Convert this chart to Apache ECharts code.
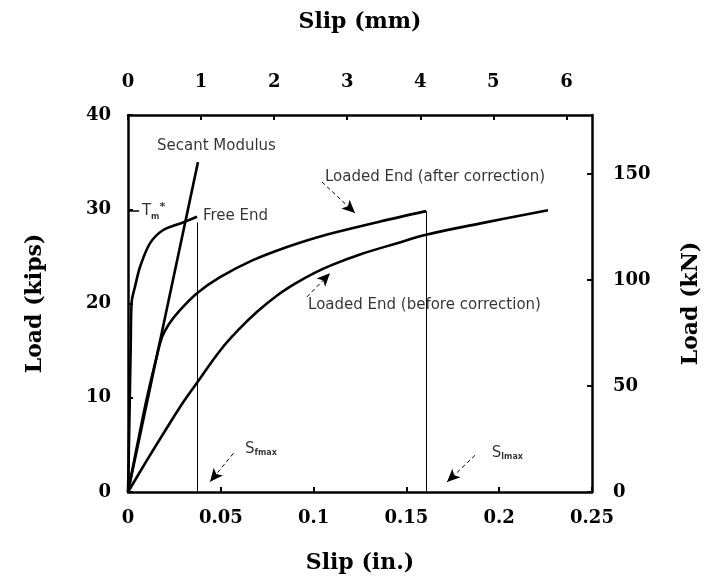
<!DOCTYPE html>
<html>
<head>
<meta charset="utf-8">
<script src="https://cdn.jsdelivr.net/npm/echarts@6/dist/echarts.min.js"></script>
<style>
html,body{margin:0;padding:0;background:#fff;}
#chart{width:705px;height:579px;}
</style>
</head>
<body>
<div id="chart"></div>
<script>
// ---- data (slip in inches, load in kips) ----
const freeEnd = [[0,0],[0.0008,8],[0.0015,16],[0.002,20.2],[0.0038,21.8],[0.0065,23.9],[0.0119,26.4],[0.019,27.8],[0.0296,28.6],[0.0372,29.2]];
const secantModulus = [[0,0],[0.0377,35]];
const loadedAfter = [[0,0],[0.005,5],[0.01,9.8],[0.015,14],[0.0183,16.4],[0.022,17.8],[0.028,19.3],[0.0372,21.1],[0.0496,22.8],[0.0673,24.6],[0.0857,26.0],[0.105,27.2],[0.1358,28.7],[0.1606,29.8]];
const loadedBefore = [[0,0],[0.01,3.3],[0.02,6.5],[0.03,9.6],[0.0372,11.6],[0.05,15.1],[0.06,17.3],[0.07,19.2],[0.08,20.8],[0.09,22.1],[0.1,23.2],[0.11,24.1],[0.125,25.2],[0.145,26.4],[0.1606,27.3],[0.19,28.5],[0.2263,29.9]];
const sFmax = 0.0372;   // free-end slip at max load (in.)
const sLmax = 0.1606;   // loaded-end slip at max load (in.)
const tmLoad = 29.8;    // T_m* (kips)

// ---- tick labels ----
const inTicks = [0,0.05,0.1,0.15,0.2,0.25];
const mmTicks = [0,1,2,3,4,5,6];
const kipTicks = [0,10,20,30,40];
const kNTicks = [0,50,100,150];

const IN_TO_MM = 25.4, KIP_TO_KN = 4.44822;
const xMax = 0.25, yMax = 40;

const serif = '"DejaVu Serif", serif';
const sans = '"DejaVu Sans", sans-serif';
const axisLbl = {color:'#000', fontFamily:serif, fontWeight:'bold', fontSize:18};
const nameSty = {color:'#000', fontFamily:serif, fontWeight:'bold', fontSize:22};
const axLine = {show:true, onZero:false, lineStyle:{color:'#000', width:2.5}};
const axTick = {show:true, inside:true, length:5, lineStyle:{color:'#000', width:2}};
function near(list, v){ return list.find(t => Math.abs(t - v) < 1e-6); }

const chart = echarts.init(document.getElementById('chart'));
const curveStyle = {color:'#000', width:2.6};

chart.setOption({
  animation:false,
  backgroundColor:'#fff',
  grid:{left:128, right:113, top:115, bottom:87, containLabel:false, outerBoundsMode:'none'},
  xAxis:[
    {type:'value', position:'bottom', min:0, max:xMax, interval:0.05,
     axisLine:axLine, axisTick:axTick, splitLine:{show:false},
     axisLabel:Object.assign({margin:17, formatter:v => { const t = near(inTicks, v); return t === undefined ? '' : String(t); }}, axisLbl),
     name:'Slip (in.)', nameLocation:'middle', nameGap:60, nameTextStyle:nameSty},
    {type:'value', position:'top', min:0, max:xMax*IN_TO_MM, interval:1,
     axisLine:axLine, axisTick:axTick, splitLine:{show:false},
     axisLabel:Object.assign({margin:24, showMaxLabel:false, formatter:v => { const t = near(mmTicks, v); return t === undefined ? '' : String(t); }}, axisLbl),
     name:'Slip (mm)', nameLocation:'middle', nameGap:82, nameTextStyle:nameSty}
  ],
  yAxis:[
    {type:'value', position:'left', min:0, max:yMax, interval:10,
     axisLine:axLine, axisTick:axTick, splitLine:{show:false},
     axisLabel:Object.assign({margin:17, formatter:v => { const t = near(kipTicks, v); return t === undefined ? '' : String(t); }}, axisLbl),
     name:'Load (kips)', nameLocation:'middle', nameGap:82, nameRotate:90, nameTextStyle:nameSty},
    {type:'value', position:'right', min:0, max:yMax*KIP_TO_KN, interval:50,
     axisLine:axLine, axisTick:axTick, splitLine:{show:false},
     axisLabel:Object.assign({margin:21, showMaxLabel:false, formatter:v => { const t = near(kNTicks, v); return t === undefined ? '' : String(t); }}, axisLbl),
     name:'Load (kN)', nameLocation:'middle', nameGap:88, nameRotate:90, nameTextStyle:nameSty}
  ],
  series:[
    {type:'line', name:'Free End', data:freeEnd, showSymbol:false, symbol:'none', smooth:0.3, lineStyle:curveStyle},
    {type:'line', name:'Secant Modulus', data:secantModulus, showSymbol:false, symbol:'none', lineStyle:curveStyle},
    {type:'line', name:'Loaded End (after correction)', data:loadedAfter, showSymbol:false, symbol:'none', smooth:0.3, lineStyle:curveStyle},
    {type:'line', name:'Loaded End (before correction)', data:loadedBefore, showSymbol:false, symbol:'none', smooth:0.4, lineStyle:curveStyle},
    {type:'line', name:'marks', data:[], silent:true,
     markLine:{silent:true, animation:false, label:{show:false},
       data:[
         [{coord:[sFmax,0], symbol:'none', lineStyle:{color:'#000', width:1, type:'solid'}}, {coord:[sFmax,freeEnd[freeEnd.length-1][1]-0.6], symbol:'none'}],
         [{coord:[sLmax,0], symbol:'none', lineStyle:{color:'#000', width:1, type:'solid'}}, {coord:[sLmax,loadedAfter[loadedAfter.length-1][1]], symbol:'none'}],
         [{coord:[0,tmLoad], symbol:'none', lineStyle:{color:'#000', width:1.5, type:'solid'}}, {coord:[0.006,tmLoad], symbol:'none'}],
         [{coord:[0.1045,32.9], symbol:'none', lineStyle:{color:'#000', width:1, type:[4,3]}}, {coord:[0.1223,29.6], symbol:'arrow', symbolSize:[9,13]}],
         [{coord:[0.0964,20.7], symbol:'none', lineStyle:{color:'#000', width:1, type:[4,3]}}, {coord:[0.1088,23.2], symbol:'arrow', symbolSize:[9,13]}],
         [{coord:[0.0568,4.1], symbol:'none', lineStyle:{color:'#000', width:1, type:[4,3]}}, {coord:[0.0442,1.1], symbol:'arrow', symbolSize:[9,13]}],
         [{coord:[0.187,3.9], symbol:'none', lineStyle:{color:'#000', width:1, type:[4,3]}}, {coord:[0.1719,1.06], symbol:'arrow', symbolSize:[9,13]}]
       ]}},
    {type:'scatter', name:'labels', symbolSize:0, silent:true,
     label:{show:true, position:'right', distance:0, color:'#000', fontFamily:sans, fontSize:15,
       formatter:p => p.name,
       rich:{
         b:{fontFamily:sans, fontSize:15, color:'#000'},
         sub:{fontFamily:sans, fontSize:8, fontWeight:'bold', color:'#000', verticalAlign:'bottom', padding:[6,0,0,0]},
         sup:{fontFamily:sans, fontSize:11, fontWeight:'bold', color:'#000', verticalAlign:'top', padding:[0,0,8,0]}
       }},
     data:[
       {name:'Secant Modulus', value:[0.0156,36.7]},
       {name:'Free End', value:[0.0404,29.3]},
       {name:'Loaded End (after correction)', value:[0.1061,33.4]},
       {name:'Loaded End (before correction)', value:[0.097,19.8]},
       {name:'{b|T}{sub|m}{sup|*}', value:[0.0075,29.8]},
       {name:'{b|S}{sub|fmax}', value:[0.063,4.5]},
       {name:'{b|S}{sub|lmax}', value:[0.196,4.1]}
     ]}
  ]
});
</script>
</body>
</html>
